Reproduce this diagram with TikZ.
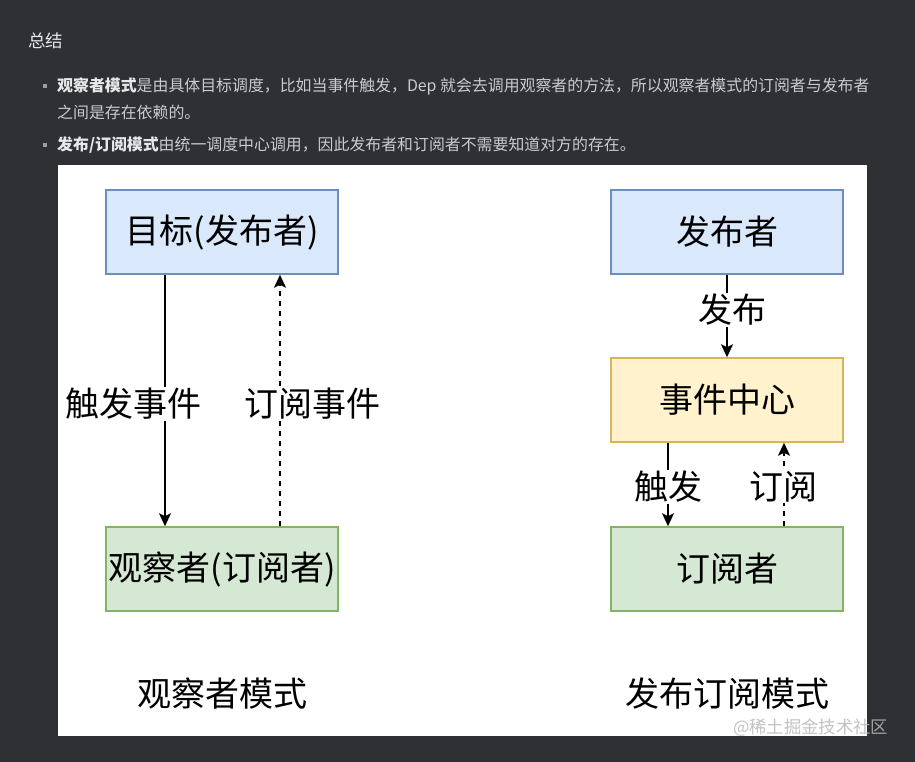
\documentclass[tikz,border=0pt]{standalone}
\usepackage{fontspec}
\setmainfont{Noto Sans CJK SC}
\usetikzlibrary{arrows.meta}
\definecolor{pagebg}{HTML}{2E3034}
\definecolor{bodytext}{HTML}{C9CBCE}
\definecolor{strongtext}{HTML}{E6E7E9}
\definecolor{bulletgray}{HTML}{9A9DA2}
\definecolor{pubfill}{HTML}{DAE8FC}
\definecolor{publine}{HTML}{6C8EBF}
\definecolor{subfill}{HTML}{D5E8D4}
\definecolor{subline}{HTML}{82B366}
\definecolor{hubfill}{HTML}{FFF2CC}
\definecolor{hubline}{HTML}{D6B656}
\tikzset{
  bigfont/.style={font=\fontsize{34}{38}\selectfont},
  card/.style={bigfont, line width=1.5pt, minimum width=232pt, minimum height=84pt, inner sep=0pt},
  pubcard/.style={card, draw=publine, fill=pubfill},
  subcard/.style={card, draw=subline, fill=subfill},
  hubcard/.style={card, draw=hubline, fill=hubfill},
  flow/.style={-{Stealth[length=13pt,width=12pt,inset=3pt]}, line width=1.7pt, black},
  backflow/.style={flow, dash pattern=on 5pt off 5pt},
  edgelabel/.style={bigfont, fill=white, inner sep=1pt},
  prose/.style={anchor=west, text=bodytext, font=\fontsize{15.9}{19}\selectfont, inner sep=0pt}
}
\begin{document}
\begin{tikzpicture}[x=1pt, y=-1pt]
  \useasboundingbox (0,0) rectangle (915,762);
  \fill[pagebg] (0,0) rectangle (915,762);

  % heading and notes
  \node[prose, text=strongtext, font=\fontsize{17.5}{20}\selectfont] (title) at (28,41) {总结};
  \fill[bulletgray] (43,84) rectangle (47,88);
  \node[prose] (noteA) at (57,86) {\textcolor{strongtext}{\bfseries 观察者模式}是由具体目标调度，比如当事件触发，Dep 就会去调用观察者的方法，所以观察者模式的订阅者与发布者};
  \node[prose] (noteB) at (57,112) {之间是存在依赖的。};
  \fill[bulletgray] (43,143) rectangle (47,147);
  \node[prose] (noteC) at (57,145) {\textcolor{strongtext}{\bfseries 发布/订阅模式}由统一调度中心调用，因此发布者和订阅者不需要知道对方的存在。};

  % diagram panel
  \fill[white] (58,165) rectangle (867,736);

  % observer pattern
  \node[pubcard] (target) at (222,232) {目标(发布者)};
  \node[subcard] (observer) at (222,569) {观察者(订阅者)};
  \draw[flow] ([xshift=-57pt]target.south) -- ([xshift=-57pt]observer.north);
  \draw[backflow] ([xshift=58pt]observer.north) -- ([xshift=58pt]target.south);
  \node[edgelabel] (fireA) at (133,404) {触发事件};
  \node[edgelabel] (subA) at (312,404) {订阅事件};
  \node[bigfont] (captionA) at (222,694) {观察者模式};

  % publish/subscribe pattern
  \node[pubcard] (publisher) at (727,232) {发布者};
  \node[hubcard] (hub) at (727,400) {事件中心};
  \node[subcard] (subscriber) at (727,569) {订阅者};
  \draw[flow] (publisher) -- (hub);
  \draw[flow] ([xshift=-59pt]hub.south) -- ([xshift=-59pt]subscriber.north);
  \draw[backflow] ([xshift=57pt]subscriber.north) -- ([xshift=57pt]hub.south);
  \node[edgelabel] (pubB) at (732,310) {发布};
  \node[edgelabel] (fireB) at (668,487) {触发};
  \node[edgelabel] (subB) at (783,487) {订阅};
  \node[bigfont] (captionB) at (727,694) {发布订阅模式};

  % watermark
  \node[anchor=west, text=white!72!black, opacity=0.85, font=\fontsize{17.3}{19}\selectfont, inner sep=0pt] (mark) at (733,728) {@稀土掘金技术社区};
\end{tikzpicture}
\end{document}
